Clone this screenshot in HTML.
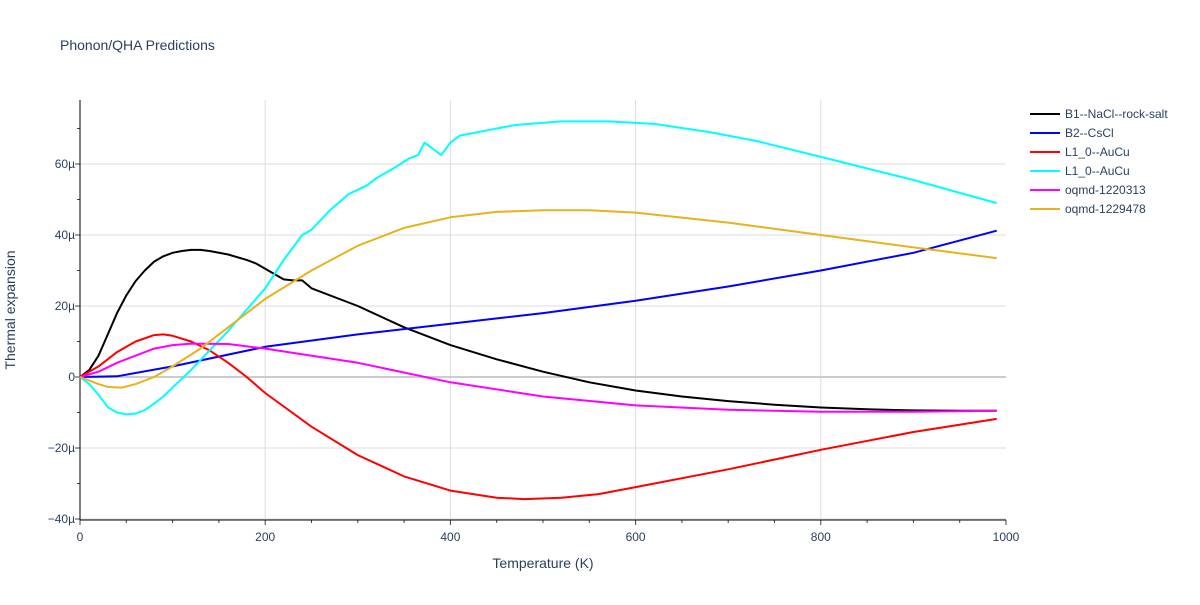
<!DOCTYPE html>
<html><head><meta charset="utf-8"><style>
body{margin:0;background:#fff;font-family:"Liberation Sans",sans-serif;}
text{font-family:"Liberation Sans",sans-serif;fill:#2a3f5f;}
</style></head><body>
<svg id="chart" width="1200" height="600" xmlns="http://www.w3.org/2000/svg">
<rect width="1200" height="600" fill="#fff"/>
<text x="60" y="50" font-size="14">Phonon/QHA Predictions</text>
<g id="grid"></g><g id="axes"></g><g id="series"></g><g id="legend"></g>
<text x="543" y="568" font-size="14" text-anchor="middle">Temperature (K)</text>
<text transform="translate(15,310) rotate(-90)" font-size="14" text-anchor="middle">Thermal expansion</text>
</svg>
<script>
const seriesNames=["B1--NaCl--rock-salt","B2--CsCl","L1_0--AuCu","L1_0--AuCu","oqmd-1220313","oqmd-1229478"];
const seriesColors=["#000000","#0000ff","#ff0000","#00ffff","#ff00ff","#e6b31e"];
const xTicks=[0,200,400,600,800,1000];
const yTicks=[-40,-20,0,20,40,60];
const s0T=[0,10,20,30,40,50,60,70,80,90,100,110,120,130,140,160,180,190,200,210,220,230,240,250,300,350,400,450,500,550,600,650,700,750,800,850,900,950,990];
const s0V=[0,2,6,12,18,23,27,30,32.5,34,35,35.5,35.8,35.8,35.5,34.5,33,32,30.5,29,27.5,27.2,27.2,25,20,14,9,5,1.5,-1.5,-3.8,-5.5,-6.8,-7.8,-8.6,-9.1,-9.4,-9.5,-9.5];
const s1T=[0,40,100,200,300,400,500,600,700,800,900,990];
const s1V=[0,0.2,3,8.5,12,15,18,21.5,25.5,30,35,41.2];
const s2T=[0,20,40,60,80,90,100,120,140,160,180,200,250,300,350,400,450,480,520,560,600,700,800,900,990];
const s2V=[0,3,7,10,11.8,12,11.6,10,7.5,4,0,-4.5,-14,-22,-28,-32,-34,-34.4,-34,-33,-31,-26,-20.5,-15.5,-11.8];
const s3T=[0,10,20,30,40,50,60,70,80,90,100,120,140,160,180,200,220,240,250,270,290,310,320,340,355,365,372,380,390,400,410,430,440,450,470,520,570,620,680,730,800,900,990];
const s3V=[0,-2,-5,-8.5,-10,-10.5,-10.3,-9.3,-7.5,-5.5,-3,2,7.5,13,19,25,33,40,41.5,47,51.5,54,56,59,61.5,62.5,66,64.5,62.5,66,68,69,69.5,70,71,72,72,71.3,69,66.5,62,55.5,49];
const s4T=[0,20,40,60,80,100,120,160,200,300,400,500,600,700,800,900,990];
const s4V=[0,1.5,4,6,8,9,9.4,9.3,8,4,-1.5,-5.5,-8,-9.2,-9.8,-9.8,-9.5];
const s5T=[0,20,30,45,60,80,100,130,160,200,250,300,350,400,450,500,550,600,700,800,900,990];
const s5V=[0,-2,-2.8,-3,-2,0,3,8,14,22,30,37,42,45,46.5,47,47,46.3,43.5,40,36.5,33.5];
const allT=[s0T,s1T,s2T,s3T,s4T,s5T], allV=[s0V,s1V,s2V,s3V,s4V,s5V];
const NS="http://www.w3.org/2000/svg";
const X0=80,X1=1006,Y0=377,PY=3.55,YT=100,YB=520;
function xs(t){return X0+(X1-X0)*t/1000;}
function ys(v){return Y0-v*PY;}
function mk(tag,at,parent){const e=document.createElementNS(NS,tag);for(const k in at)e.setAttribute(k,at[k]);parent.appendChild(e);return e;}
const grid=document.getElementById('grid'),axes=document.getElementById('axes'),ser=document.getElementById('series'),leg=document.getElementById('legend');
xTicks.forEach(t=>{
 if(t>0&&t<1000){const g=mk('line',{x1:xs(t),x2:xs(t),y1:YT,y2:YB,stroke:'#ddd','stroke-width':1},grid);
 
 }
 const l=mk('text',{x:xs(t),y:541,'font-size':12,'text-anchor':'middle'},axes);l.textContent=t;
 
 
});
for(let t=0;t<=1000;t+=50){mk('line',{x1:xs(t),x2:xs(t),y1:YB,y2:t%200==0?YB+5:YB+3,stroke:'#444'},axes);}
yTicks.forEach(v=>{
 const g=mk('line',{x1:X0,x2:X1,y1:ys(v),y2:ys(v),stroke:v==0?'#ccc':'#ddd','stroke-width':v==0?2:1},grid);
 
 
 const l=mk('text',{x:75,y:ys(v)+4,'font-size':12,'text-anchor':'end'},axes);l.textContent=(v<0?'−':'')+Math.abs(v)+(v==0?'':'µ');
 
 
});
for(let v=-40;v<=70;v+=10){mk('line',{x1:X0,x2:X0-(v%20==0?5:3),y1:ys(v),y2:ys(v),stroke:'#444'},axes);}
mk('line',{x1:X0,x2:X0,y1:YT,y2:YB,stroke:'#000'},axes);
mk('line',{x1:X0,x2:X1,y1:YB,y2:YB,stroke:'#000'},axes);
allT.forEach((T,i)=>{
 const d=T.map((t,j)=>(j?'L':'M')+xs(t).toFixed(1)+','+ys(allV[i][j]).toFixed(1)).join('');
 const p=mk('path',{d:d,fill:'none',stroke:seriesColors[i],'stroke-width':2,'stroke-linejoin':'round'},ser);
 
 
 const y=114+i*19;
 const g=mk('g',{},leg);
 
 
 mk('line',{x1:1030,x2:1060,y1:y,y2:y,stroke:seriesColors[i],'stroke-width':2},g);
 const tx=mk('text',{x:1065,y:y+4,'font-size':12},g);tx.textContent=seriesNames[i];
});
</script>
</body></html>
